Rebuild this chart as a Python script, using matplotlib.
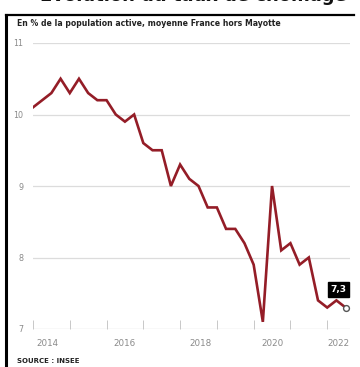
import matplotlib.pyplot as plt
import numpy as np

# Taux de chomage trimestriel (INSEE), France hors Mayotte
quarters = ['2014T1', '2014T2', '2014T3', '2014T4',
            '2015T1', '2015T2', '2015T3', '2015T4',
            '2016T1', '2016T2', '2016T3', '2016T4',
            '2017T1', '2017T2', '2017T3', '2017T4',
            '2018T1', '2018T2', '2018T3', '2018T4',
            '2019T1', '2019T2', '2019T3', '2019T4',
            '2020T1', '2020T2', '2020T3', '2020T4',
            '2021T1', '2021T2', '2021T3', '2021T4',
            '2022T1', '2022T2', '2022T3']
rate = [10.1, 10.2, 10.3, 10.5,
        10.3, 10.5, 10.3, 10.2,
        10.2, 10.0, 9.9, 10.0,
        9.6, 9.5, 9.5, 9.0,
        9.3, 9.1, 9.0, 8.7,
        8.7, 8.4, 8.4, 8.2,
        7.9, 7.1, 9.0, 8.1,
        8.2, 7.9, 8.0, 7.4,
        7.3, 7.4, 7.3]
year_labels = ['2014', '2016', '2018', '2020', '2022']
y_ticks = [7, 8, 9, 10, 11]

x = np.array([int(q[:4]) + (int(q[-1]) - 1) / 4 for q in quarters])

W, H = 360, 367
fig = plt.figure(figsize=(W / 100, H / 100), dpi=100)
fig.patch.set_facecolor('white')

def px(xp, yp):
    return xp / W, 1 - yp / H

# frame lines (top + left)
fig.add_artist(plt.Line2D([6 / W, 354 / W], [1 - 15 / H, 1 - 15 / H], color='black', lw=1.6))
fig.add_artist(plt.Line2D([6 / W, 6 / W], [0, 1 - 15 / H], color='black', lw=2.2))

# big title, mostly cut off by the top edge (as in the source screenshot)
fig.text(*px(193, 0.6), 'Évolution du taux de chômage', fontsize=13, fontweight='bold',
         ha='center', va='baseline', color='#111111')

fig.text(*px(17, 23), 'En % de la population active, moyenne France hors Mayotte',
         fontsize=5.6, fontweight='bold', color='#222222', va='center')
fig.text(*px(17, 361), 'SOURCE : INSEE', fontsize=5.0, fontweight='bold',
         color='#222222', va='center')

ax = fig.add_axes([33 / W, 1 - 329 / H, 317 / W, 286 / H])
ax.set_xlim(2014, 2022.62)
ax.set_ylim(7, 11)
for s in ax.spines.values():
    s.set_visible(False)
for v in y_ticks[1:]:
    ax.axhline(v, color='#dcdcdc', lw=0.9, zorder=0)
ax.axhline(7, color='#c8c8c8', lw=0.9, zorder=0)

ax.set_yticks(y_ticks)
ax.set_yticklabels([str(v) for v in y_ticks])
ax.tick_params(axis='y', length=0, pad=7, labelsize=5.8, labelcolor='#8a8a8a')
ax.set_xticks(np.arange(2014, 2023))
ax.set_xticklabels([])
ax.tick_params(axis='x', direction='in', length=6.5, width=0.7, color='#c8c8c8')
label_pos = [2014.4, 2016.5, 2018.55, 2020.5, 2022.3]
for p, lab in zip(label_pos, year_labels):
    ax.annotate(lab, xy=(p, 7), xytext=(0, -7.5), textcoords='offset points',
                ha='center', va='top', fontsize=6.3, color='#8a8a8a')

ax.plot(x, rate, color='#941d27', lw=1.9, solid_joinstyle='miter', zorder=3)
ax.plot(x[-1], rate[-1], 'o', ms=4.2, mfc='white', mec='#555555', mew=1.0, zorder=4)

ax.annotate(f'{rate[-1]:.1f}'.replace('.', ','), xy=(x[-1], rate[-1]), xytext=(-5, 13),
            textcoords='offset points', ha='center', va='center', fontsize=6.5,
            fontweight='bold', color='white',
            bbox=dict(boxstyle='square,pad=0.3', fc='black', ec='black'))

fig.savefig('out.png', dpi=100)
